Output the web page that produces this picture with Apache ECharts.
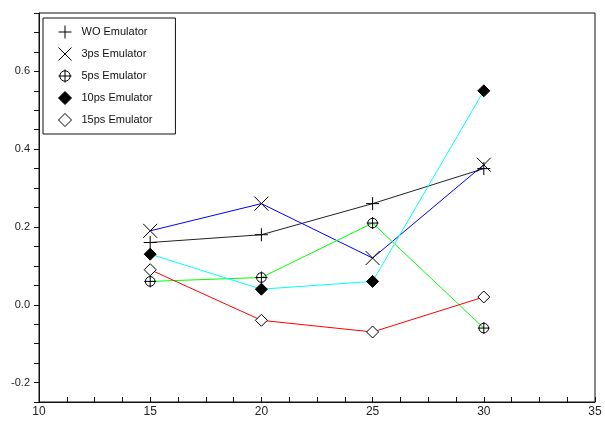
<!DOCTYPE html>
<html>
<head>
<meta charset="utf-8">
<script src="https://cdn.jsdelivr.net/npm/echarts@6/dist/echarts.min.js"></script>
<style>html,body{margin:0;padding:0;background:#fff;}#c{width:605px;height:421px;}</style>
</head>
<body>
<div id="c"></div>
<script>
var xValues = [15, 20, 25, 30];
var seriesNames = ['WO Emulator', '3ps Emulator', '5ps Emulator', '10ps Emulator', '15ps Emulator'];
var woValues = [0.16, 0.18, 0.26, 0.35];
var ps3Values = [0.19, 0.26, 0.12, 0.36];
var ps5Values = [0.06, 0.07, 0.21, -0.06];
var ps10Values = [0.13, 0.04, 0.06, 0.55];
var ps15Values = [0.09, -0.04, -0.07, 0.02];
var yTickLabels = ['-0.2', '0.0', '0.2', '0.4', '0.6'];

var SYM_PLUS = 'path://M10,0L10,20M0,10L20,10';
var SYM_X = 'path://M0,0L20,20M20,0L0,20';
var SYM_CPLUS = 'path://M10,2A8,8 0 1,1 9.99,2ZM10,0L10,20M0,10L20,10';
var SYM_DIAM = 'path://M10,0L20,10L10,20L0,10Z';

var symbols = [SYM_PLUS, SYM_X, SYM_CPLUS, SYM_DIAM, SYM_DIAM];
var fills = ['transparent', 'transparent', 'transparent', '#000', '#fff'];
var lineColors = ['#222', '#0000ff', '#00ff00', '#00ffff', '#ff0000'];
var sizes = [13, 14, 12, 12, 12];
var valueLists = [woValues, ps3Values, ps5Values, ps10Values, ps15Values];

function pairs(vals) { return xValues.map(function (x, i) { return [x, vals[i]]; }); }

var chart = echarts.init(document.getElementById('c'), null, { renderer: 'canvas' });
var font = 'Liberation Sans, Arial, sans-serif';
chart.setOption({
  animation: false,
  backgroundColor: '#fff',
  grid: { left: 39, right: 10, top: 13, bottom: 19, show: true, borderColor: '#111', borderWidth: 1, backgroundColor: 'transparent' },
  xAxis: {
    type: 'value', min: 10, max: 35, interval: 5,
    axisLine: { show: true, onZero: false, lineStyle: { color: '#111', width: 1 } },
    axisTick: { show: true, inside: true, length: 5, lineStyle: { color: '#111' } },
    minorTick: { show: true, splitNumber: 4, length: 5, lineStyle: { color: '#111' } },
    splitLine: { show: false },
    axisLabel: { color: '#222', fontFamily: font, fontSize: 12, margin: 4 }
  },
  yAxis: {
    type: 'value', min: -0.25, max: 0.75, interval: 0.05,
    axisLine: { show: true, onZero: false, lineStyle: { color: '#111', width: 1 } },
    axisTick: { show: true, inside: false, length: 5, lineStyle: { color: '#111' } },
    splitLine: { show: false },
    axisLabel: {
      color: '#222', fontFamily: font, fontSize: 11, margin: 9,
      formatter: function (v) {
        var r = v / 0.2;
        if (Math.abs(r - Math.round(r)) < 1e-6) {
          var idx = Math.round(r) + 1;
          return yTickLabels[idx] !== undefined ? yTickLabels[idx] : '';
        }
        return '';
      }
    }
  },
  legend: {
    orient: 'vertical', left: 43, top: 18,
    padding: [7, 23, 7, 15], itemWidth: 13, itemHeight: 13, itemGap: 8,
    borderColor: '#111', borderWidth: 1, backgroundColor: '#fff',
    textStyle: { fontFamily: font, fontSize: 11, color: '#111', padding: [0, 0, 0, 5] },
    data: seriesNames.map(function (n, i) {
      return {
        name: n, icon: symbols[i],
        itemStyle: { color: fills[i], borderColor: '#000', borderWidth: 1 }
      };
    }),
    selectedMode: false
  },
  series: seriesNames.map(function (n, i) {
    return {
      name: n, type: 'line', data: pairs(valueLists[i]),
      symbol: symbols[i], symbolSize: sizes[i], showSymbol: true,
      lineStyle: { color: lineColors[i], width: 1 },
      itemStyle: { color: fills[i], borderColor: '#000', borderWidth: 1 },
      emphasis: { disabled: true }, animation: false
    };
  })
});
</script>
</body>
</html>
